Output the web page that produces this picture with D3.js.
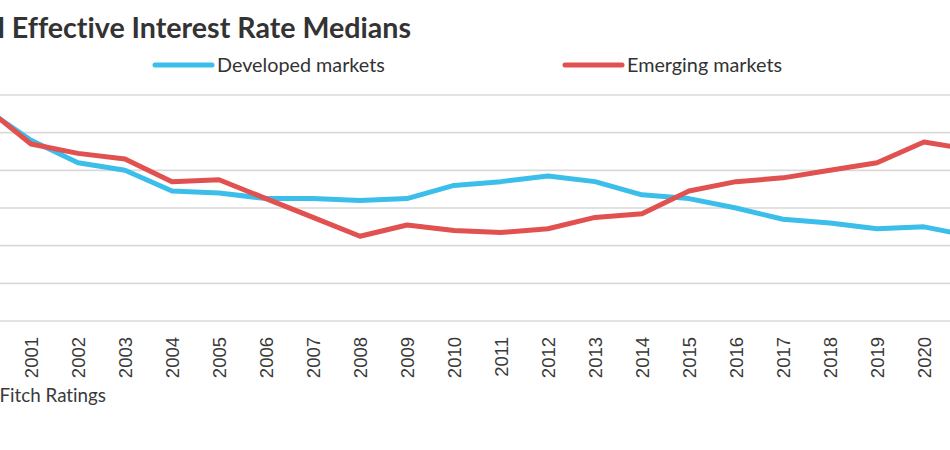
<!DOCTYPE html>
<html>

<head>
  <meta charset="utf-8">
  <title>Effective Interest Rate Medians</title>
  <script src="https://d3js.org/d3.v7.min.js"></script>
  <style>
    body { margin: 0; background: #fff; }
    text { font-variant-ligatures: none; }
  </style>
</head>

<body>
  <div id='view'></div>
  <script>
    var width = 950;
    var height = 450;

    // data (%, axis 0-12)
    var years = ["2000", "2001", "2002", "2003", "2004", "2005", "2006", "2007", "2008", "2009", "2010",
      "2011", "2012", "2013", "2014", "2015", "2016", "2017", "2018", "2019", "2020", "2021"];
    var developed = [11.3, 9.6, 8.4, 8.0, 6.9, 6.8, 6.5, 6.5, 6.4, 6.5, 7.2,
      7.4, 7.7, 7.4, 6.7, 6.5, 6.0, 5.4, 5.2, 4.9, 5.0, 4.5];
    var emerging = [11.4, 9.4, 8.9, 8.6, 7.4, 7.5, 6.5, 5.5, 4.5, 5.1, 4.8,
      4.7, 4.9, 5.5, 5.7, 6.9, 7.4, 7.6, 8.0, 8.4, 9.5, 9.1];
    var yTicks = [0, 2, 4, 6, 8, 10, 12];
    var seriesNames = ["Developed markets", "Emerging markets"];
    var seriesColors = ["#3cbeea", "#e05150"];

    var svg = d3.select("#view")
      .append("svg")
      .attr("width", width)
      .attr("height", height);

    // plot area (left part of the chart lies outside the picture)
    var x = d3.scaleBand()
      .domain(years)
      .range([-39.5, 994.5]);

    var y = d3.scaleLinear()
      .domain([0, 12])
      .range([321, 95]);

    // gridlines
    svg.append("g")
      .selectAll("line")
      .data(yTicks)
      .join("line")
      .attr("x1", -60)
      .attr("x2", width)
      .attr("y1", d => y(d))
      .attr("y2", d => y(d))
      .attr("stroke", "#d9d9d9")
      .attr("stroke-width", 1.6);

    // x axis labels
    var axis = svg.append("g")
      .attr("transform", "translate(0," + y(0) + ")")
      .call(d3.axisBottom(x).tickSize(0).tickPadding(0));
    axis.select(".domain").remove();
    axis.selectAll("text")
      .attr("transform", "rotate(-90)")
      .attr("text-anchor", "end")
      .attr("x", -16)
      .attr("y", 0)
      .attr("dy", "0.36em")
      .attr("fill", "#3a3a3a")
      .style("font-family", "'Liberation Sans', Arial, sans-serif")
      .style("font-size", "18.5px");

    // lines
    var line = d3.line()
      .x((d, i) => x(years[i]) + x.bandwidth() / 2)
      .y(d => y(d));

    var series = [developed, emerging];
    svg.append("g")
      .selectAll("path")
      .data(series)
      .join("path")
      .attr("d", d => line(d))
      .attr("fill", "none")
      .attr("stroke", (d, i) => seriesColors[i])
      .attr("stroke-width", 5)
      .attr("stroke-linejoin", "round");

    // title
    svg.append("text")
      .attr("x", 411)
      .attr("y", 38)
      .attr("text-anchor", "end")
      .attr("fill", "#333")
      .style("font-family", "Lato, sans-serif")
      .style("font-weight", "bold")
      .style("font-size", "28.6px")
      .text("Annual Effective Interest Rate Medians");

    // legend
    var legendX = [155, 565];
    var legend = svg.append("g")
      .selectAll("g")
      .data(seriesNames)
      .join("g")
      .attr("transform", (d, i) => "translate(" + legendX[i] + ",65)");
    legend.append("line")
      .attr("x1", 0)
      .attr("x2", 57)
      .attr("stroke", (d, i) => seriesColors[i])
      .attr("stroke-width", 5)
      .attr("stroke-linecap", "round");
    legend.append("text")
      .attr("x", 62)
      .attr("y", 7)
      .attr("fill", "#333")
      .style("font-family", "Lato, sans-serif")
      .style("font-size", "19.8px")
      .text(d => d);

    // source
    svg.append("text")
      .attr("x", 106)
      .attr("y", 402)
      .attr("text-anchor", "end")
      .attr("fill", "#3a3a3a")
      .style("font-family", "Lato, sans-serif")
      .style("font-size", "18.8px")
      .text("Source: Fitch Ratings");
  </script>
</body>

</html>
